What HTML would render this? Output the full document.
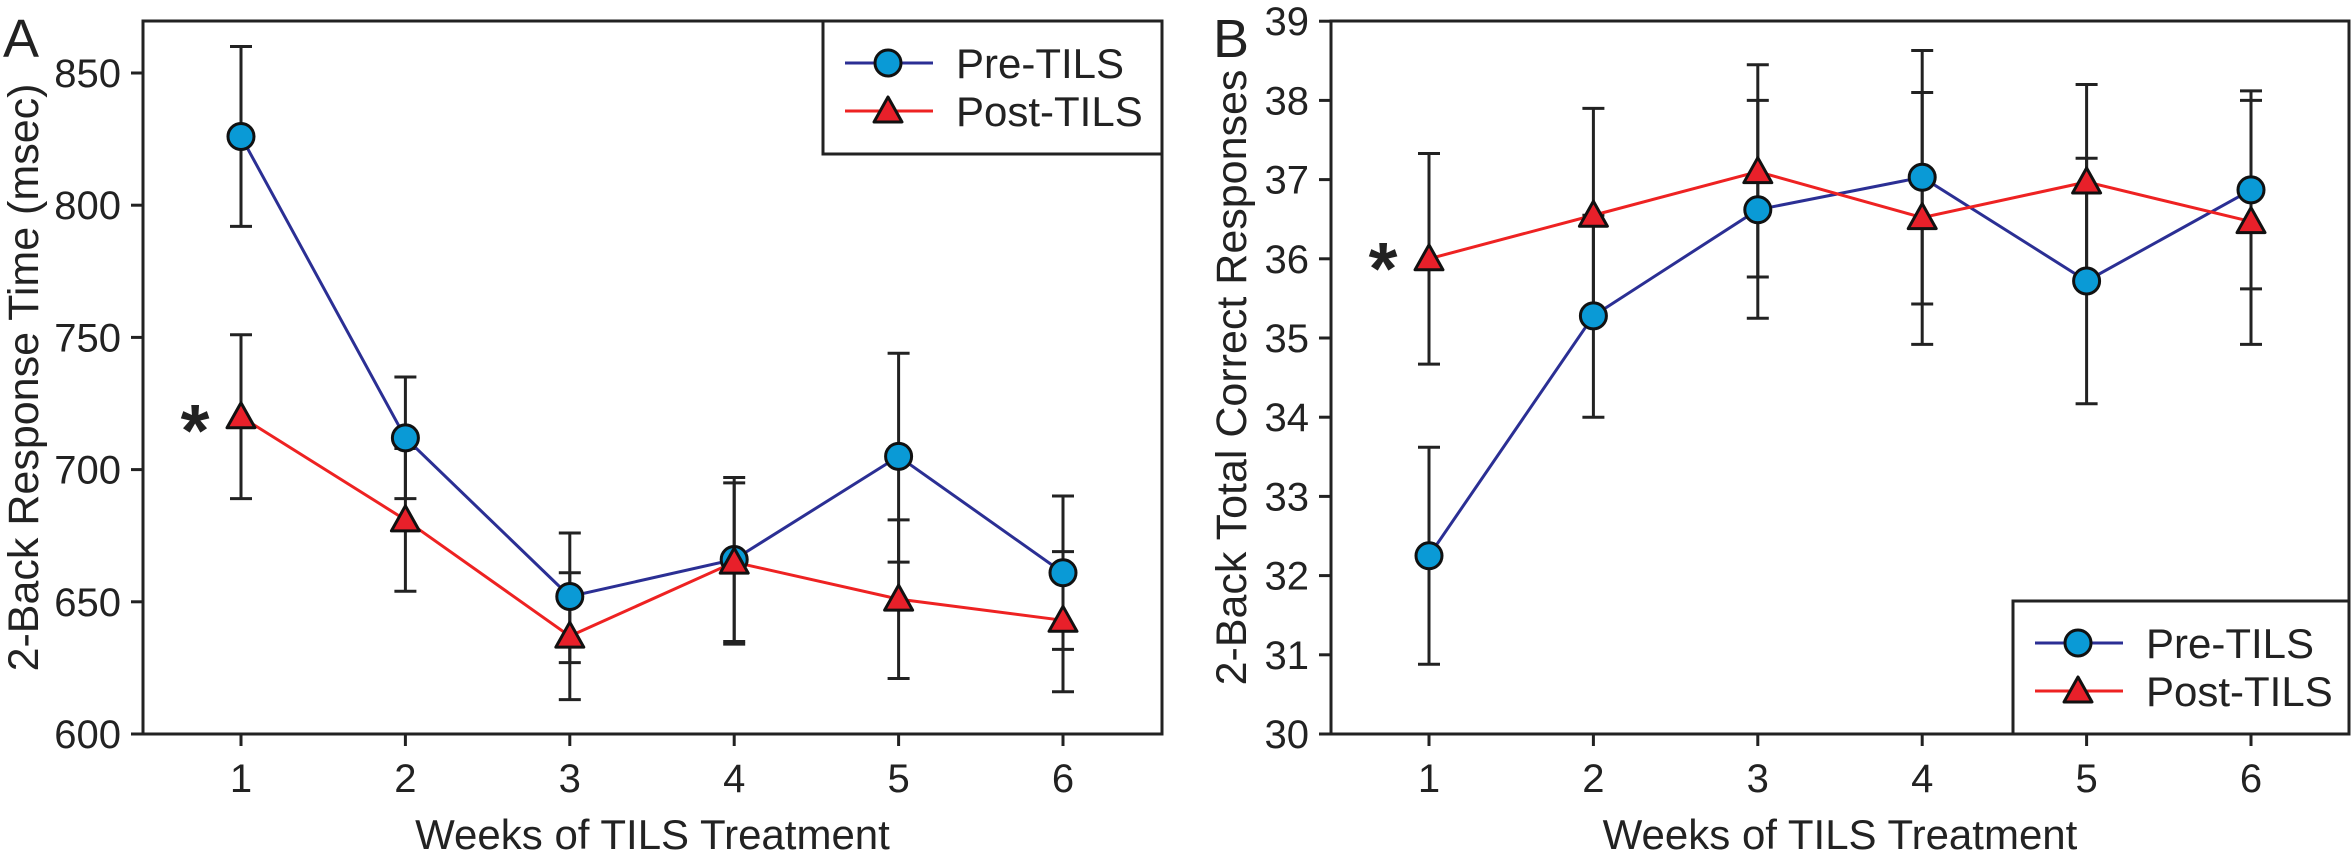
<!DOCTYPE html>
<html><head><meta charset="utf-8"><style>
html,body{margin:0;padding:0;background:#fff;}
svg{display:block;font-family:"Liberation Sans",Arial,sans-serif;}
</style></head><body>
<svg id="s" width="2352" height="856" viewBox="0 0 2352 856" xmlns="http://www.w3.org/2000/svg"></svg>
<script>
const s=document.getElementById('s');let h='';
let Yscale;
function panel(L,R,T,B,ymin,ylabels,pre,post,ytitle,ytx,ast,leg,letter,lx){
  const xw=i=>L+98+(i-1)*164.4;
  function Y(v){return B-(v-ymin)*(Yscale);}
  h+=`<text x="${lx}" y="57" font-size="54" fill="#222">${letter}</text>`;
  for(const v of ylabels){const y=Y(v);h+=`<line x1="${L-12}" x2="${L}" y1="${y}" y2="${y}" stroke="#222" stroke-width="3"/>`;
    h+=`<text x="${L-22}" y="${y+14}" font-size="40" text-anchor="end" fill="#222">${v}</text>`;}
  for(let i=1;i<=6;i++){const x=xw(i);h+=`<line x1="${x}" x2="${x}" y1="${B}" y2="${B+12}" stroke="#222" stroke-width="3"/>`;
    h+=`<text x="${x}" y="${B+58}" font-size="40" text-anchor="middle" fill="#222">${i}</text>`;}
  h+=`<text x="${(L+R)/2}" y="${B+115}" font-size="42" text-anchor="middle" fill="#222">Weeks of TILS Treatment</text>`;
  h+=`<text transform="translate(${ytx},${(T+B)/2}) rotate(-90)" font-size="43" text-anchor="middle" fill="#222">${ytitle}</text>`;
  function series(d,col){let p='';d.forEach((e,i)=>{p+=(i?'L':'M')+xw(i+1)+' '+Y(e[0]);});
    h+=`<path d="${p}" fill="none" stroke="${col}" stroke-width="3"/>`;}
  function errs(d){d.forEach((e,i)=>{const x=xw(i+1);h+=`<path d="M${x} ${Y(e[1])}V${Y(e[2])}M${x-11} ${Y(e[1])}h22M${x-11} ${Y(e[2])}h22" stroke="#222" stroke-width="3" fill="none"/>`;});}
  errs(pre);errs(post);
  series(pre,'#2b2f94');series(post,'#ee2222');
  pre.forEach((e,i)=>{h+=`<circle cx="${xw(i+1)}" cy="${Y(e[0])}" r="13" fill="#0a9ad6" stroke="#111" stroke-width="3"/>`;});
  post.forEach((e,i)=>{const x=xw(i+1),y=Y(e[0]);h+=`<path d="M${x} ${y-14}L${x+14} ${y+11}L${x-14} ${y+11}Z" fill="#e8202a" stroke="#111" stroke-width="3" stroke-linejoin="round"/>`;});
  h+=`<text x="${ast[0]}" y="${ast[1]}" font-size="74" font-weight="bold" text-anchor="middle" fill="#222">*</text>`;
  const [a,b,c,d]=leg;
  h+=`<rect x="${a}" y="${b}" width="${c-a}" height="${d-b}" fill="#fff" stroke="#222" stroke-width="3"/>`;
  const mx=a+65,r1=b+42,r2=b+90;
  h+=`<line x1="${mx-43}" x2="${mx+45}" y1="${r1}" y2="${r1}" stroke="#2b2f94" stroke-width="3"/><circle cx="${mx}" cy="${r1}" r="13" fill="#0a9ad6" stroke="#111" stroke-width="3"/>`;
  h+=`<line x1="${mx-43}" x2="${mx+45}" y1="${r2}" y2="${r2}" stroke="#ee2222" stroke-width="3"/><path d="M${mx} ${r2-14}L${mx+14} ${r2+11}L${mx-14} ${r2+11}Z" fill="#e8202a" stroke="#111" stroke-width="3" stroke-linejoin="round"/>`;
  h+=`<text x="${a+133}" y="${r1+15}" font-size="42" fill="#222">Pre-TILS</text><text x="${a+133}" y="${r2+15}" font-size="42" fill="#222">Post-TILS</text>`;
  h+=`<rect x="${L}" y="${T}" width="${R-L}" height="${B-T}" fill="none" stroke="#222" stroke-width="3"/>`;
}
Yscale=132.2/50;
panel(143,1162,21,734,600,[600,650,700,750,800,850],
 [[826,792,860],[712,689,735],[652,627,676],[666,635,697],[705,665,744],[661,632,690]],
 [[720,689,751],[681,654,708],[637,613,661],[665,634,695],[651,621,681],[643,616,669]],
 '2-Back Response Time (msec)',38,[195,456],[823,21,1162,154],'A',3);
Yscale=79.2;
panel(1331,2349,21,734,30,[30,31,32,33,34,35,36,37,38,39],
 [[32.25,30.88,33.62],[35.28,34.0,36.55],[36.62,35.25,38.0],[37.03,35.43,38.63],[35.72,34.17,37.27],[36.87,35.62,38.12]],
 [[36.0,34.67,37.33],[36.55,35.2,37.9],[37.1,35.77,38.45],[36.52,34.92,38.1],[36.97,35.75,38.2],[36.47,34.92,38.0]],
 '2-Back Total Correct Responses',1246,[1383,294],[2013,601,2349,734],'B',1213);
s.innerHTML=h;
</script>
</body></html>
